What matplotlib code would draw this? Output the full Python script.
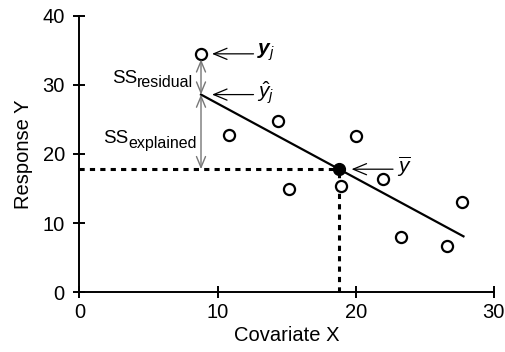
import matplotlib
matplotlib.use("Agg")
from matplotlib import pyplot as plt
import numpy as np

plt.rcParams['font.family'] = ['Liberation Sans', 'DejaVu Sans']
plt.rcParams['mathtext.fontset'] = 'custom'
plt.rcParams['mathtext.rm'] = 'Liberation Sans'
plt.rcParams['mathtext.it'] = 'Liberation Sans:italic'
plt.rcParams['mathtext.bf'] = 'Liberation Sans:bold:italic'

# observed data
x_obs = [8.8, 10.8, 14.4, 15.2, 18.9, 20.0, 22.0, 23.3, 26.6, 27.7]
y_obs = [34.5, 22.8, 24.8, 15.0, 15.3, 22.6, 16.4, 8.0, 6.7, 13.0]

# means and fitted line
x_mean = 18.8
y_mean = 17.8
slope = -1.08
fit_x = [8.8, 27.8]

# highlighted observation j
x_j = 8.8
y_j = 34.5
yhat_j = y_mean + slope * (x_j - x_mean)

fig = plt.figure(figsize=(5.06, 3.52), dpi=100)
ax = fig.add_axes([0.157, 0.170, 0.819, 0.785])

# dashed guides to the mean point
dash = dict(color='black', lw=2.2, dashes=(1.7, 1.7))
ax.plot([0, x_mean], [y_mean, y_mean], **dash)
ax.plot([x_mean, x_mean], [0, y_mean], **dash)

# regression line
fit_y = [y_mean + slope * (v - x_mean) for v in fit_x]
ax.plot(fit_x, fit_y, color='black', lw=1.6)

ax.plot(x_obs, y_obs, 'o', mfc='white', mec='black', mew=1.6, ms=8, zorder=3)
ax.plot([x_mean], [y_mean], 'o', color='black', ms=8.5, zorder=4)

# vertical SS arrows
grey = dict(arrowstyle='<->,head_length=0.6,head_width=0.25', color='#777777',
            lw=1, shrinkA=0, shrinkB=0, mutation_scale=13)
ax.annotate('', xy=(x_j, y_j - 0.8), xytext=(x_j, yhat_j), arrowprops=grey)
ax.annotate('', xy=(x_j, yhat_j), xytext=(x_j, y_mean), arrowprops=grey)

# SS labels: subscript drawn as its own text so it can be larger than mathtext's
sub_res = ax.text(8.25, 29.7, 'residual', ha='right', va='baseline', fontsize=11.5)
ax.annotate('SS', xy=(0, 0), xycoords=sub_res, xytext=(0, 5.3),
            textcoords='offset points', ha='right', va='baseline', fontsize=13.5)
sub_exp = ax.text(8.5, 20.9, 'explained', ha='right', va='baseline', fontsize=11.5)
ax.annotate('SS', xy=(0, 0), xycoords=sub_exp, xytext=(0, 5.3),
            textcoords='offset points', ha='right', va='baseline', fontsize=13.5)

# pointer arrows with labels
ptr = dict(arrowstyle='->,head_length=0.6,head_width=0.25', color='black',
           lw=0.9, shrinkA=0, shrinkB=0, mutation_scale=16)
ax.annotate('', xy=(9.6, y_j), xytext=(12.6, y_j), arrowprops=ptr)
ax.text(12.85, y_j + 0.2, r'$\mathbf{y}_j$', ha='left', va='center', fontsize=15)
ax.annotate('', xy=(9.6, yhat_j), xytext=(12.6, yhat_j), arrowprops=ptr)
ax.text(12.85, yhat_j + 0.2, r'$\hat{y}_j$', ha='left', va='center', fontsize=15)
ax.annotate('', xy=(19.7, y_mean), xytext=(22.7, y_mean), arrowprops=ptr)
ax.text(23.0, y_mean + 0.4, r'$\overline{y}$', ha='left', va='center', fontsize=15)

ax.set_xlim(0, 30)
ax.set_ylim(0, 40)
ax.set_xticks([0, 10, 20, 30])
ax.set_yticks([0, 10, 20, 30, 40])
ax.tick_params(direction='inout', length=8, width=1.4, labelsize=14.5)
ax.tick_params(axis='x', pad=3.5)
ax.tick_params(axis='y', pad=6.5)
for s in ['top', 'right']:
    ax.spines[s].set_visible(False)
for s in ['left', 'bottom']:
    ax.spines[s].set_linewidth(1.4)
ax.set_xlabel('Covariate X', fontsize=14.5, labelpad=3)
ax.set_ylabel('Response Y', fontsize=14.5, labelpad=7)

fig.savefig('out.png', dpi=100)
